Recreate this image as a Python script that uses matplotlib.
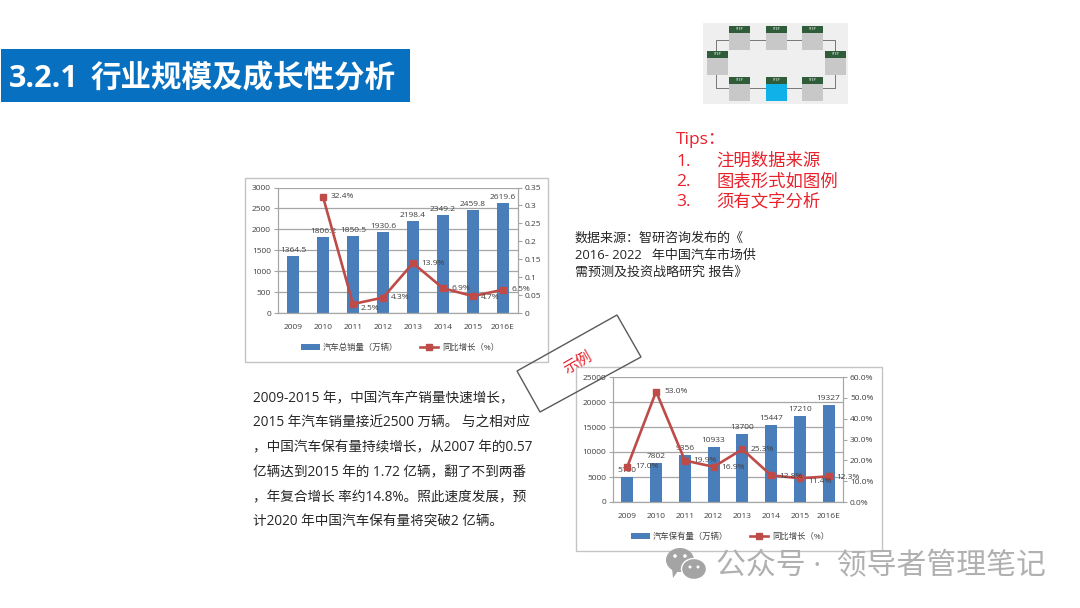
import matplotlib
matplotlib.use("Agg")
import matplotlib.pyplot as plt
from matplotlib.patches import Rectangle, Polygon, Ellipse

plt.rcParams['font.family'] = ['Open Sans', 'Noto Sans CJK SC', 'DejaVu Sans']

W, H = 1080, 608

# Chart data
years = ['2009', '2010', '2011', '2012', '2013', '2014', '2015', '2016E']

sales = [1364.5, 1806.2, 1850.5, 1930.6, 2198.4, 2349.2, 2459.8, 2619.6]
sales_growth = [None, 0.324, 0.025, 0.043, 0.139, 0.069, 0.047, 0.065]
sales_growth_labels = ['', '32.4%', '2.5%', '4.3%', '13.9%', '6.9%', '4.7%', '6.5%']

stock = [5100, 7802, 9356, 10933, 13700, 15447, 17210, 19327]
stock_growth = [0.170, 0.530, 0.199, 0.169, 0.253, 0.128, 0.114, 0.123]
stock_growth_labels = ['17.0%', '53.0%', '19.9%', '16.9%', '25.3%', '12.8%', '11.4%', '12.3%']

# Slide text
title_num = '3.2.1'
title_txt = '行业规模及成长性分析'
tips = ['注明数据来源', '图表形式如图例', '须有文字分析']
source_lines = ['数据来源：智研咨询发布的《', '2016- 2022   年中国汽车市场供', '需预测及投资战略研究 报告》']
body_lines = [
    '2009-2015 年，中国汽车产销量快速增长，',
    '2015 年汽车销量接近2500 万辆。 与之相对应',
    '，中国汽车保有量持续增长，从2007 年的0.57',
    '亿辆达到2015 年的 1.72 亿辆，翻了不到两番',
    '，年复合增长 率约14.8%。照此速度发展，预',
    '计2020 年中国汽车保有量将突破2 亿辆。',
]

BAR = '#4a7ebb'
LINE = '#be4b48'
GRID = '#a6a6a6'
TXT = '#404040'
FS = 6.0

fig = plt.figure(figsize=(W / 100, H / 100), dpi=100, facecolor='white')

# full-slide overlay in pixel coordinates, y pointing down
bg = fig.add_axes([0, 0, 1, 1])
bg.set_xlim(0, W)
bg.set_ylim(H, 0)
bg.axis('off')


def px_axes(x0, y0, x1, y1):
    return fig.add_axes([x0 / W, 1 - y1 / H, (x1 - x0) / W, (y1 - y0) / H])


def combo_chart(box, frame, bars, growth, growth_labels, ymax, ystep, rticks, rlabels, rmax,
                bar_label, offsets, bar_offsets):
    bg.add_patch(Rectangle((frame[0], frame[1]), frame[2] - frame[0], frame[3] - frame[1],
                           fc='white', ec='#c4c4c4', lw=1.0, zorder=1))
    ax = px_axes(*box)
    ax.set_facecolor('none')
    xs = list(range(len(years)))
    ax.bar(xs, bars, width=0.41, color=BAR, zorder=2, label=bar_label)
    ax.set_xlim(-0.5, len(years) - 0.5)
    ax.set_ylim(0, ymax)
    ax.set_yticks(range(0, ymax + 1, ystep))
    ax.set_xticks(xs)
    ax.set_xticklabels(years, fontsize=FS, color=TXT)
    ax.tick_params(axis='y', labelsize=FS, labelcolor=TXT, length=3, color=GRID, pad=2)
    ax.tick_params(axis='x', length=0, pad=8)
    ax.grid(axis='y', color=GRID, lw=0.9, zorder=0)
    ax.set_axisbelow(True)
    ax.spines['top'].set_visible(False)
    for s in ['left', 'bottom', 'right']:
        ax.spines[s].set_color(GRID)
    for i, v in enumerate(bars):
        ax.annotate(f'{v:g}', (i, v), xytext=bar_offsets[i], textcoords='offset pixels',
                    ha='center', va='bottom', fontsize=FS, color=TXT, zorder=6)

    ax2 = ax.twinx()
    ax2.set_facecolor('none')
    gx = [i for i, g in zip(xs, growth) if g is not None]
    gy = [g for g in growth if g is not None]
    ax2.plot(gx, gy, color=LINE, lw=1.9, marker='s', ms=4.6, zorder=5, label='同比增长（%）')
    ax2.set_ylim(0, rmax)
    ax2.set_yticks(rticks)
    ax2.set_yticklabels(rlabels)
    ax2.tick_params(axis='y', labelsize=FS, labelcolor=TXT, length=3, color=GRID, pad=2)
    ax2.spines['top'].set_visible(False)
    for s in ['left', 'bottom', 'right']:
        ax2.spines[s].set_color(GRID)
    for i, g in enumerate(growth):
        if g is None:
            continue
        ax2.annotate(growth_labels[i], (i, g), xytext=offsets[i], textcoords='offset pixels',
                     ha='left', va='center', fontsize=FS, color=TXT, zorder=6)

    h1, l1 = ax.get_legend_handles_labels()
    h2, l2 = ax2.get_legend_handles_labels()
    fig.legend(h1 + h2, l1 + l2, loc='center',
               bbox_to_anchor=((box[0] + box[2]) / 2 / W + 0.002, 1 - (frame[3] - 14) / H),
               ncol=2, frameon=False, fontsize=FS, labelcolor=TXT, columnspacing=2.6,
               handlelength=2.2, handletextpad=0.4)


# header band
bg.add_patch(Rectangle((1, 49), 409, 53, fc='#0870c0', ec='none'))
bg.text(9, 79, title_num, color='white', fontsize=22, fontweight='bold', va='center', ha='left')
bg.text(91, 79, title_txt, color='white', fontsize=22, fontweight='bold', va='center', ha='left')

# flow diagram thumbnail
bg.add_patch(Rectangle((703, 23), 145, 81, fc='#efefef', ec='none'))
bg.plot([716, 716, 835, 835, 716, 716], [76, 40, 40, 88, 88, 51], color='#777777', lw=0.7)
step_boxes = [(729, 26), (766, 26), (802, 26), (707, 51), (825, 51), (729, 77), (766, 77), (802, 77)]
for n, (bx, by) in enumerate(step_boxes):
    w = 21
    face = '#10b0e8' if n == 6 else '#c8c8c8'
    bg.add_patch(Rectangle((bx, by), w, 24, fc=face, ec='none', zorder=3))
    bg.add_patch(Rectangle((bx, by), w, 6.5, fc='#2f5d3a', ec='none', zorder=4))
    bg.text(bx + w / 2, by + 3.2, 'STEP', color='white', fontsize=2.4, ha='center', va='center', zorder=5)

# tips
bg.text(676, 140, 'Tips：', color='#e8212b', fontsize=12.5, va='center')
for i, t in enumerate(tips):
    yy = 161.5 + i * 20.5
    bg.text(676, yy, f'{i + 1}.', color='#e8212b', fontsize=12.5, va='center')
    bg.text(716, yy, t, color='#e8212b', fontsize=12.5, va='center')

# data source
for i, t in enumerate(source_lines):
    bg.text(575, 238 + i * 17, t, color='#262626', fontsize=9.4, va='center')

# body paragraph
for i, t in enumerate(body_lines):
    bg.text(253, 399 + i * 24.6, t, color='#262626', fontsize=9.8, va='center')

combo_chart((278, 187.5, 518, 313), (245, 178, 548, 362), sales, sales_growth, sales_growth_labels,
            3000, 500, [0, 0.05, 0.1, 0.15, 0.2, 0.25, 0.3, 0.35],
            ['0', '0.05', '0.1', '0.15', '0.2', '0.25', '0.3', '0.35'], 0.35, '汽车总销量（万辆）',
            [None, (8, 0), (8, -4), (8, 0), (8, 0), (8, 0), (8, -1), (8, 0)],
            [(0, 2)] * 8)

combo_chart((613, 377, 843, 502), (576, 367, 882, 551), stock, stock_growth, stock_growth_labels,
            25000, 5000, [0, 0.1, 0.2, 0.3, 0.4, 0.5, 0.6],
            ['0.0%', '10.0%', '20.0%', '30.0%', '40.0%', '50.0%', '60.0%'], 0.6, '汽车保有量（万辆）',
            [(8, 0), (8, 0), (8, 0), (8, -1), (8, 0), (8, -1), (8, -3), (8, -1)],
            [(0, 3)] * 8)

# overlay on top of the chart frames
top = fig.add_axes([0, 0, 1, 1], zorder=20)
top.set_xlim(0, W)
top.set_ylim(H, 0)
top.axis('off')
top.add_patch(Polygon([(517, 371), (617, 315), (641, 357), (540, 412)], closed=True,
                      fc='none', ec='#595959', lw=1.0))
top.text(578, 363, '示例', color='#e8212b', fontsize=11, rotation=30, ha='center', va='center')

# watermark
top.add_patch(Ellipse((680, 560), 28, 24, fc='#a4a4a4', ec='none'))
top.add_patch(Polygon([(672, 568), (678, 571), (673, 578)], closed=True, fc='#a4a4a4', ec='none'))
top.add_patch(Ellipse((694, 569), 25, 21, fc='#a4a4a4', ec='white', lw=1.0))
for ex, ey, er in [(675, 556, 1.8), (685, 556, 1.8), (690, 567, 1.5), (698, 567, 1.5)]:
    top.add_patch(Ellipse((ex, ey), er * 2, er * 2, fc='white', ec='none'))
top.text(716, 567, '公众号 ·  领导者管理笔记', color='#b0b0b0', fontsize=21.5, va='center', ha='left')

fig.savefig('out.png', dpi=100)
